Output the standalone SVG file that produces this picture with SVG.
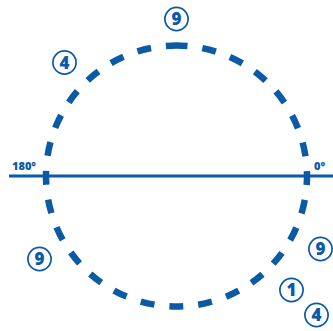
<svg xmlns="http://www.w3.org/2000/svg" width="333" height="331" viewBox="0 0 333 331">
<style>
.ring{fill:#fff;stroke:#0b5aa6;stroke-width:1.7}
.num{font-family:"Open Sans","Liberation Sans",sans-serif;font-weight:800;font-size:17px;fill:#0b5aa6;text-anchor:middle}
.deg{font-family:"Open Sans","Liberation Sans",sans-serif;font-weight:800;font-size:11px;fill:#0b5aa6}
</style>
<rect width="333" height="331" fill="#fff"/>
<g id="connectors">
<line x1="9" y1="176" x2="333" y2="176" stroke="#0b5aa6" stroke-width="2.8"/>
<path d="M176.5,45.5 A130.5,130.5 0 1 1 176.5,306.5 A130.5,130.5 0 1 1 176.5,45.5" fill="none" stroke="#0b5aa6" stroke-width="6.5" stroke-dasharray="14 15" stroke-dashoffset="3"/>
</g>
<g id="label-180"><text class="deg" x="12" y="169.5">180°</text></g>
<g id="label-0"><text class="deg" x="314" y="169.5">0°</text></g>
<g id="n-top9"><circle class="ring" cx="176.5" cy="19" r="11.6"/><text class="num" x="176.5" y="25">9</text></g>
<g id="n-4a"><circle class="ring" cx="64.5" cy="62.5" r="11.6"/><text class="num" x="64.5" y="68.5">4</text></g>
<g id="n-9b"><circle class="ring" cx="39.5" cy="259" r="11.6"/><text class="num" x="39.5" y="265">9</text></g>
<g id="n-9c"><circle class="ring" cx="320.5" cy="249" r="11.6"/><text class="num" x="320.5" y="255">9</text></g>
<g id="n-1"><circle class="ring" cx="291.5" cy="290" r="11.6"/><text class="num" x="291.5" y="296">1</text></g>
<g id="n-4b"><circle class="ring" cx="316.5" cy="315" r="11.6"/><text class="num" x="316.5" y="321">4</text></g>
</svg>
